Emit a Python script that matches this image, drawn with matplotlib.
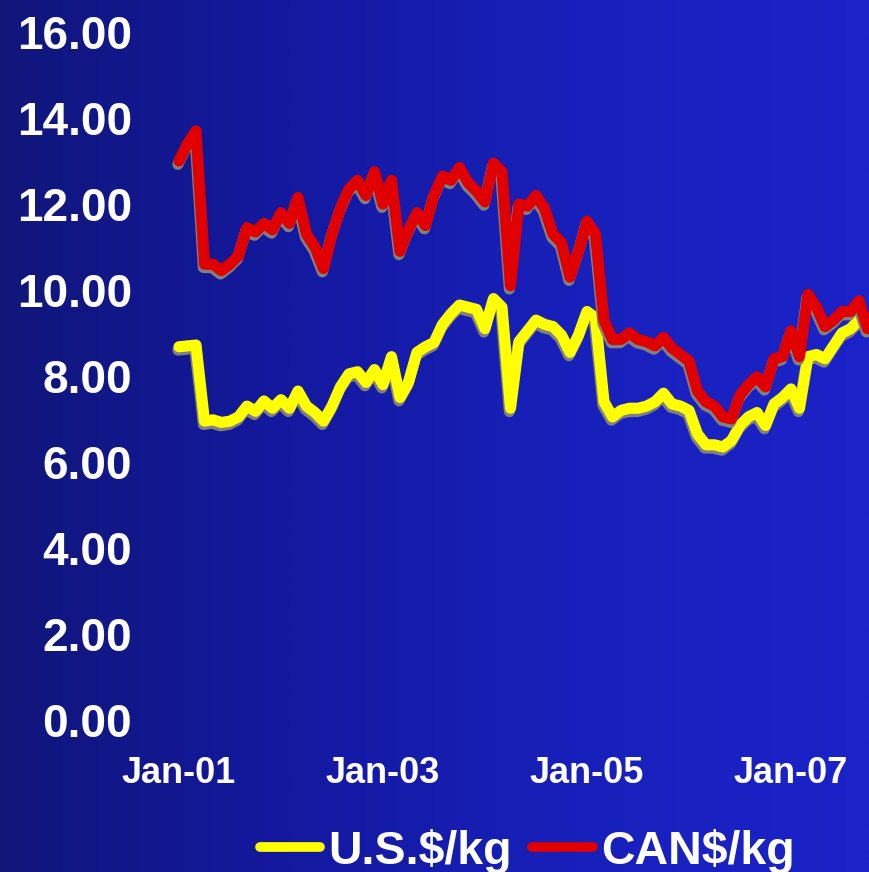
import numpy as np
import matplotlib
matplotlib.use("Agg")
import matplotlib.pyplot as plt
import matplotlib.patheffects as pe
from matplotlib.colors import LinearSegmentedColormap

# ---- data (monthly, Jan-2001 onward) ----
can_per_kg = [13.0, 13.4, 13.7, 10.6, 10.6, 10.45, 10.6, 10.8, 11.45, 11.35,
              11.55, 11.4, 11.8, 11.55, 12.15, 11.3, 11.0, 10.5, 11.3, 11.9,
              12.35, 12.55, 12.2, 12.75, 12.0, 12.55, 10.9, 11.4, 11.8, 11.5,
              12.2, 12.65, 12.55, 12.85, 12.5, 12.3, 12.05, 12.95, 12.75, 10.1,
              12.0, 11.95, 12.2, 11.9, 11.3, 11.1, 10.3, 10.9, 11.6, 11.3,
              9.3, 8.85, 8.85, 9.0, 8.85, 8.8, 8.7, 8.9, 8.65, 8.5,
              8.35, 7.65, 7.4, 7.3, 7.05, 7.0, 7.55, 7.8, 7.98, 7.75,
              8.4, 8.45, 9.05, 8.45, 9.9, 9.6, 9.15, 9.3, 9.5, 9.5,
              9.75, 9.1]
us_per_kg = [8.68, 8.7, 8.72, 6.95, 6.98, 6.92, 6.95, 7.05, 7.3, 7.18,
             7.42, 7.25, 7.45, 7.25, 7.65, 7.3, 7.15, 6.95, 7.3, 7.75,
             8.05, 8.1, 7.85, 8.15, 7.8, 8.45, 7.5, 7.85, 8.55, 8.68,
             8.78, 9.2, 9.45, 9.65, 9.6, 9.55, 9.1, 9.8, 9.6, 7.25,
             8.8, 9.05, 9.3, 9.2, 9.15, 8.95, 8.55, 8.95, 9.5, 9.35,
             7.4, 7.05, 7.2, 7.25, 7.25, 7.3, 7.4, 7.6, 7.35, 7.3,
             7.2, 6.65, 6.4, 6.4, 6.35, 6.5, 6.85, 7.05, 7.15, 6.85,
             7.35, 7.5, 7.7, 7.25, 8.45, 8.5, 8.4, 8.7, 9.0, 9.1,
             9.3, 9.2]
month_index = np.arange(len(can_per_kg))
xtick_pos = [0, 24, 48, 72]
xtick_labels = ["Jan-01", "Jan-03", "Jan-05", "Jan-07"]
ytick_vals = [0, 2, 4, 6, 8, 10, 12, 14, 16]
series_labels = ["U.S.$/kg", "CAN$/kg"]

W, H = 869, 872
fig = plt.figure(figsize=(W / 100, H / 100), dpi=100)

# gradient background
bg = fig.add_axes([0, 0, 1, 1], zorder=-10)
cmap = LinearSegmentedColormap.from_list(
    "bgblue", ["#10167a", "#1419a0", "#1820bb", "#1b23c9"])
grad = np.linspace(0, 1, 512).reshape(1, -1)
bg.imshow(grad, aspect="auto", cmap=cmap, extent=[0, 1, 0, 1])
bg.set_axis_off()

# axes: pixel mapping x=179 at month 0, 8.5 px / month; y=720 at 0, 43 px / unit
left_px, right_px = 150, 869
bottom_px, top_px = 745, 0
ax = fig.add_axes([left_px / W, (H - bottom_px) / H,
                   (right_px - left_px) / W, (bottom_px - top_px) / H])
ax.patch.set_alpha(0)
ax.set_xlim((left_px - 179) / 8.5, (right_px - 179) / 8.5)
ax.set_ylim(-(bottom_px - 720) / 43, 720 / 43)

shadow = [pe.SimpleLineShadow(offset=(-0.8, -2.4), shadow_color="#808080",
                              alpha=1.0, rho=1.0), pe.Normal()]
lw = 8.0
l1, = ax.plot(month_index, us_per_kg, color="#ffff00", lw=lw,
              solid_capstyle="round", solid_joinstyle="round",
              path_effects=shadow, label=series_labels[0], zorder=3)
l2, = ax.plot(month_index, can_per_kg, color="#e00000", lw=lw,
              solid_capstyle="round", solid_joinstyle="round",
              path_effects=shadow, label=series_labels[1], zorder=4)

for s in ax.spines.values():
    s.set_visible(False)
ax.tick_params(length=0)
ax.set_xticks(xtick_pos)
ax.set_xticklabels(xtick_labels, fontsize=26, fontweight="bold",
                   color="white", family="Liberation Sans")
ax.tick_params(axis="x", pad=8)
ax.set_yticks(ytick_vals)
ax.set_yticklabels([f"{v:.2f}" for v in ytick_vals], fontsize=33,
                   fontweight="bold", color="white", family="Liberation Sans")
ax.tick_params(axis="y", pad=13)

h1 = plt.Line2D([], [], color="#ffff00", lw=7, solid_capstyle="round")
h2 = plt.Line2D([], [], color="#e00000", lw=7, solid_capstyle="round")
leg = fig.legend([h1, h2], series_labels, loc="center",
                 bbox_to_anchor=(527 / W, (H - 851) / H), ncol=2,
                 frameon=False, handlelength=1.3, handletextpad=0.17,
                 columnspacing=0.45,
                 prop={"family": "Liberation Sans", "weight": "bold", "size": 33.5})
for t in leg.get_texts():
    t.set_color("white")

fig.savefig("out.png", dpi=100)
